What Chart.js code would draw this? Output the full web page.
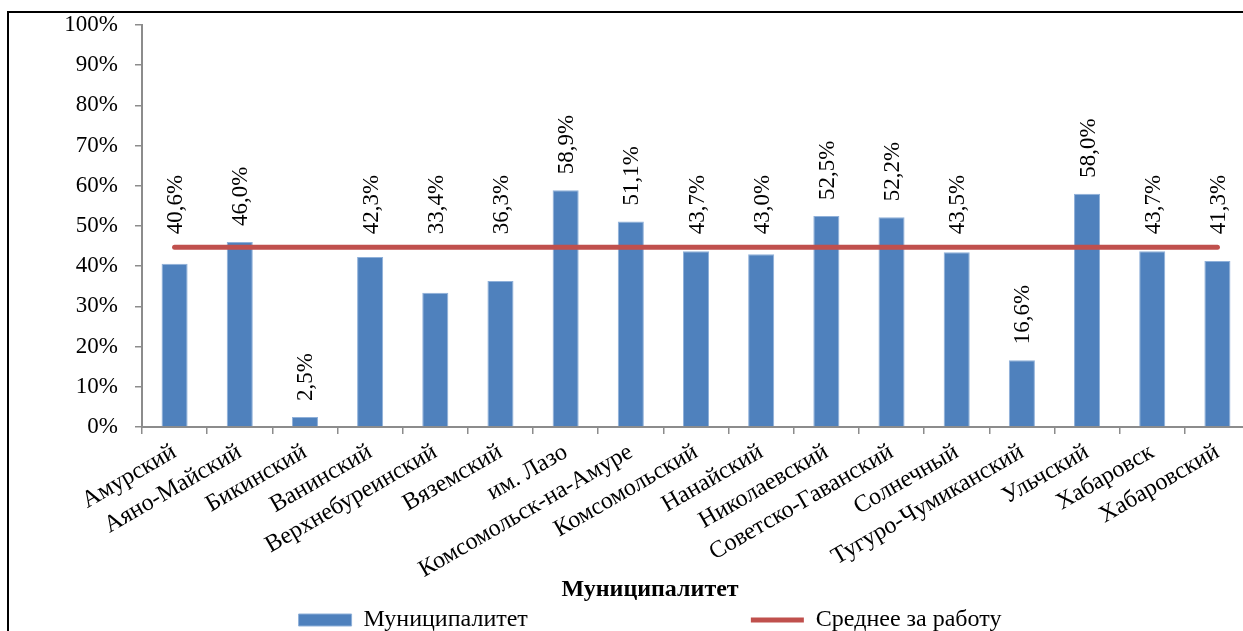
<!DOCTYPE html>
<html lang="ru">
<head>
<meta charset="utf-8">
<title>Муниципалитет</title>
<script src="https://cdn.jsdelivr.net/npm/chart.js@4.4.1/dist/chart.umd.min.js"></script>
<style>
  html, body { margin: 0; padding: 0; background: #fff; overflow: hidden; width: 1243px; height: 631px; }
  #frame { position: absolute; left: 7px; top: 11px; width: 1300px; height: 700px; border: 2px solid #000; pointer-events: none; }
  #chart { position: absolute; left: 0; top: 0; }
</style>
</head>
<body>
<canvas id="chart" width="1300" height="660"></canvas>
<div id="frame"></div>
<script>
// Districts of the region
const categories = [
  'Амурский', 'Аяно-Майский', 'Бикинский', 'Ванинский', 'Верхнебуреинский',
  'Вяземский', 'им. Лазо', 'Комсомольск-на-Амуре', 'Комсомольский', 'Нанайский',
  'Николаевский', 'Советско-Гаванский', 'Солнечный', 'Тугуро-Чумиканский',
  'Ульчский', 'Хабаровск', 'Хабаровский'
];
// Share per district, %
const municipalValues = [40.6, 46.0, 2.5, 42.3, 33.4, 36.3, 58.9, 51.1, 43.7, 43.0, 52.5, 52.2, 43.5, 16.6, 58.0, 43.7, 41.3];
// Overall average, %
const averageValues = [44.7, 44.7, 44.7, 44.7, 44.7, 44.7, 44.7, 44.7, 44.7, 44.7, 44.7, 44.7, 44.7, 44.7, 44.7, 44.7, 44.7];
// Axis ticks, %
const yTicks = [0, 10, 20, 30, 40, 50, 60, 70, 80, 90, 100];

const seriesNames = ['Муниципалитет', 'Среднее за работу'];
const axisTitle = 'Муниципалитет';

const serif = 'Liberation Serif, "Times New Roman", serif';
const legendGap = 223;

const fmt = v => v.toFixed(1).replace('.', ',') + '%';

// Vertical value labels above each bar; a label that would cross the average line is lifted above it
const barValueLabels = {
  id: 'barValueLabels',
  afterDraw(chart) {
    const meta = chart.getDatasetMeta(0);
    const lineMeta = chart.getDatasetMeta(1);
    const ctx = chart.ctx;
    ctx.save();
    ctx.font = '23px ' + serif;
    ctx.fillStyle = '#000';
    ctx.textAlign = 'left';
    ctx.textBaseline = 'middle';
    meta.data.forEach((bar, i) => {
      const text = fmt(municipalValues[i]);
      const len = ctx.measureText(text).width;
      const lineY = lineMeta.data[i].y;
      let anchorY = bar.y - 16;
      if (anchorY > lineY - 13 && anchorY - len < lineY + 6) {
        anchorY = lineY - 13;
      }
      ctx.save();
      ctx.translate(bar.x + 1.5, anchorY);
      ctx.rotate(-Math.PI / 2);
      ctx.fillText(text, 0, 0);
      ctx.restore();
    });
    ctx.restore();
  }
};

new Chart(document.getElementById('chart'), {
  type: 'bar',
  data: {
    labels: categories,
    datasets: [
      {
        type: 'bar',
        label: seriesNames[0],
        data: municipalValues,
        backgroundColor: '#4F81BD',
        borderColor: '#8FB0D9',
        borderWidth: 1,
        barPercentage: 0.4,
        categoryPercentage: 1,
        pointStyle: 'rect',
        order: 1
      },
      {
        type: 'line',
        label: seriesNames[1],
        data: averageValues,
        borderColor: '#C0504D',
        backgroundColor: '#C0504D',
        borderWidth: 5,
        borderCapStyle: 'round',
        pointRadius: 0,
        pointHoverRadius: 0,
        pointStyle: 'line',
        fill: false,
        order: 0
      }
    ]
  },
  options: {
    responsive: false,
    animation: false,
    devicePixelRatio: 1,
    layout: { padding: { top: 25, left: 50, right: 50, bottom: 18 } },
    plugins: {
      tooltip: { enabled: false },
      legend: {
        position: 'bottom',
        labels: {
          font: { family: serif, size: 24 },
          color: '#000',
          usePointStyle: true,
          pointStyleWidth: 53,
          boxHeight: 12,
          padding: legendGap,
          sort: (a, b) => a.datasetIndex - b.datasetIndex
        },
        title: {
          display: true,
          text: axisTitle,
          color: '#000',
          font: { family: serif, size: 24, weight: 'bold' },
          padding: { top: 0, bottom: 1.2 - legendGap }
        }
      }
    },
    scales: {
      x: {
        offset: true,
        grid: {
          display: true,
          offset: true,
          drawOnChartArea: false,
          drawTicks: true,
          tickLength: 7,
          color: '#8C8C8C',
          lineWidth: 1.5
        },
        border: { display: true, color: '#8C8C8C', width: 2 },
        ticks: {
          autoSkip: false,
          minRotation: 30,
          maxRotation: 30,
          padding: 4,
          color: '#000',
          font: { family: serif, size: 24 }
        },
        afterFit(scale) { scale.height = 151; }
      },
      y: {
        min: yTicks[0],
        max: yTicks[yTicks.length - 1],
        afterBuildTicks(scale) { scale.ticks = yTicks.map(v => ({ value: v })); },
        grid: {
          display: true,
          drawOnChartArea: false,
          drawTicks: true,
          tickLength: 7,
          color: '#8C8C8C',
          lineWidth: 1.5
        },
        border: { display: true, color: '#8C8C8C', width: 2 },
        ticks: {
          padding: 17,
          color: '#000',
          font: { family: serif, size: 23 },
          callback: v => v + '%'
        },
        afterFit(scale) {
          scale.width = 92;
          scale.paddingTop = 0;
          scale.paddingBottom = 0;
        }
      }
    }
  },
  plugins: [barValueLabels]
});
</script>
</body>
</html>
